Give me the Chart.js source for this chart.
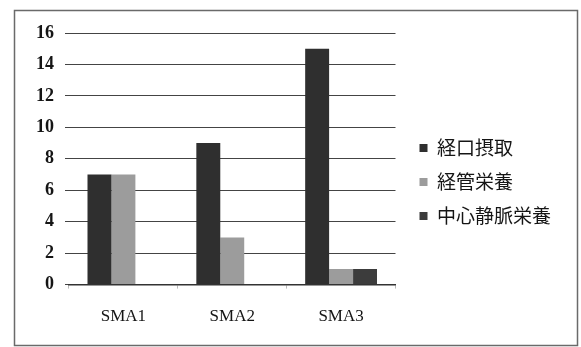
<!DOCTYPE html>
<html>
<head>
<meta charset="utf-8">
<script src="https://cdn.jsdelivr.net/npm/chart.js@4/dist/chart.umd.min.js"></script>
<style>
  html, body { margin: 0; padding: 0; background: #fff; }
  #wrap { width: 581px; height: 347px; }
</style>
</head>
<body>
<div id="wrap"><canvas id="c" width="581" height="347"></canvas></div>
<script>
// Patient groups and nutrition routes (counts)
const categories = ['SMA1', 'SMA2', 'SMA3'];
const seriesNames = ['経口摂取', '経管栄養', '中心静脈栄養'];
const oralIntake = [7, 9, 15];
const tubeFeeding = [7, 3, 1];
const centralVenous = [0, 0, 1];
const yTicks = [0, 2, 4, 6, 8, 10, 12, 14, 16];

const colors = ['#2f2f2f', '#9c9c9c', '#3c3c3c'];

// Outer frame around the whole figure; legend sits a little away from the plot
const framePlugin = {
  id: 'frame',
  beforeDraw(chart) {
    const ctx = chart.ctx;
    ctx.save();
    ctx.fillStyle = '#fff';
    ctx.fillRect(0, 0, chart.width, chart.height);
    ctx.strokeStyle = '#6a6a6a';
    ctx.lineWidth = 1.5;
    ctx.strokeRect(14.5, 10.5, 563, 335);
    ctx.restore();
  },
  afterLayout(chart) {
    const lg = chart.legend;
    lg.left = chart.chartArea.right + 9;
    lg.right = chart.width - 4;
    lg.width = lg.right - lg.left;
    lg.top -= 7; lg.bottom -= 7;
  }
};

new Chart(document.getElementById('c'), {
  type: 'bar',
  data: {
    labels: categories,
    datasets: [
      { label: seriesNames[0], data: oralIntake, backgroundColor: colors[0] },
      { label: seriesNames[1], data: tubeFeeding, backgroundColor: colors[1] },
      { label: seriesNames[2], data: centralVenous, backgroundColor: colors[2] }
    ]
  },
  options: {
    responsive: false,
    animation: false,
    devicePixelRatio: 1,
    layout: { padding: { top: 33, left: 25, right: 62, bottom: 2 } },
    datasets: { bar: { categoryPercentage: 0.66, barPercentage: 1.0 } },
    plugins: {
      tooltip: { enabled: false },
      legend: {
        position: 'right',
        align: 'center',
        labels: {
          boxWidth: 8,
          boxHeight: 8,
          padding: 15,
          color: '#151515',
          font: { family: "'Noto Sans CJK JP'", size: 19 }
        }
      }
    },
    scales: {
      x: {
        offset: true,
        grid: {
          offset: true,
          drawOnChartArea: false,
          drawTicks: true,
          tickLength: 4,
          color: '#bbbbbb'
        },
        border: { display: true, color: '#333', width: 1.5 },
        ticks: {
          padding: 18,
          color: '#151515',
          font: { family: "'Liberation Serif'", size: 17 }
        }
      },
      y: {
        min: 0,
        max: 16,
        afterBuildTicks(axis) { axis.ticks = yTicks.map(v => ({ value: v })); },
        grid: {
          color: '#444',
          lineWidth: 1,
          drawTicks: true,
          tickLength: 4
        },
        border: { display: false },
        ticks: {
          padding: 11,
          color: '#151515',
          font: { family: "'Liberation Serif'", size: 18, weight: 'bold' }
        }
      }
    }
  },
  plugins: [framePlugin]
});
</script>
</body>
</html>
